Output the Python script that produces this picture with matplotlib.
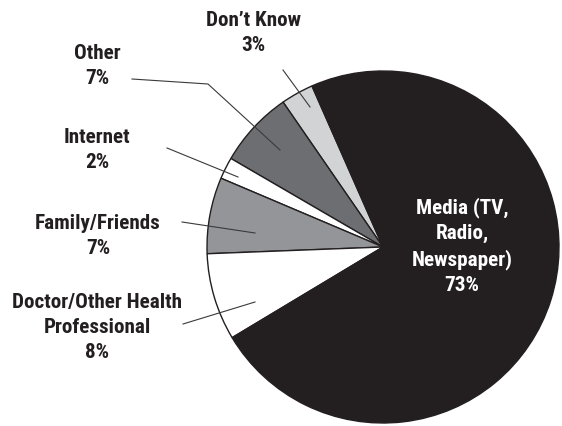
import matplotlib
matplotlib.use("Agg")
import matplotlib.pyplot as plt
from matplotlib import font_manager
from matplotlib.font_manager import FontProperties

# Survey: main source of health information
labels = ["Don\u2019t Know", "Other", "Internet", "Family/Friends",
          "Doctor/Other Health\nProfessional", "Media (TV,\nRadio,\nNewspaper)"]
values = [3, 7, 2, 7, 8, 73]
colors = ["#d1d3d4", "#6d6e71", "#ffffff", "#939598", "#ffffff", "#231f20"]

W, H = 562, 427
FS = 15.2


def bold_condensed(size):
    """Pick a bold condensed face, falling back to a plain bold sans."""
    wanted = ["RobotoCondensed-Bold", "ArchivoNarrow-Bold", "BarlowCondensed-Bold",
              "AsapCondensed-Bold", "PTSansNarrow-Bold", "LiberationSansNarrow-Bold"]
    files = {f.fname.split("/")[-1].rsplit(".", 1)[0]: f.fname
             for f in font_manager.fontManager.ttflist}
    for w in wanted:
        if w in files:
            return FontProperties(fname=files[w], size=size)
    for f in font_manager.fontManager.ttflist:
        if "RobotoCondensed" in f.fname and "Italic" not in f.fname:
            return FontProperties(fname=f.fname, size=size, weight="bold")
    return FontProperties(family="DejaVu Sans", weight="bold", size=size - 3)


fp = bold_condensed(FS)

fig = plt.figure(figsize=(W / 100, H / 100), dpi=100)
ax = fig.add_axes([0, 0, 1, 1])

cx, cy, r = 383, H - 248, 176
ax.pie(values, colors=colors, startangle=113.8, counterclock=True,
       center=(cx, cy), radius=r, frame=True,
       wedgeprops=dict(edgecolor="#231f20", linewidth=1.0))
ax.set_xlim(0, W)
ax.set_ylim(0, H)
ax.set_aspect("equal")
ax.axis("off")


def img(x, y):
    return x, H - y


# outside labels: (text centre, leader line points), in pixels from top-left
outside = [
    ((253, 33), [(283, 71), (310, 108)]),
    ((97, 66), [(132, 80), (208, 85), (280, 151)]),
    ((97, 150), [(167, 149), (238, 178)]),
    ((98, 236), [(182, 223), (255, 234)]),
    ((97, 328), [(183, 325), (255, 303)]),
]
for (lab, val), (pos, pts) in zip(zip(labels[:5], values[:5]), outside):
    ax.text(*img(*pos), f"{lab}\n{val}%", ha="center", va="center",
            fontproperties=fp, color="#231f20", linespacing=1.4)
    xs, ys = zip(*[img(x, y) for x, y in pts])
    ax.plot(xs, ys, color="#3a3a3a", lw=0.8)

ax.text(*img(462, 246), f"{labels[5]}\n{values[5]}%", ha="center", va="center",
        fontproperties=fp, color="white", linespacing=1.4)

fig.savefig("out.png", dpi=100)
